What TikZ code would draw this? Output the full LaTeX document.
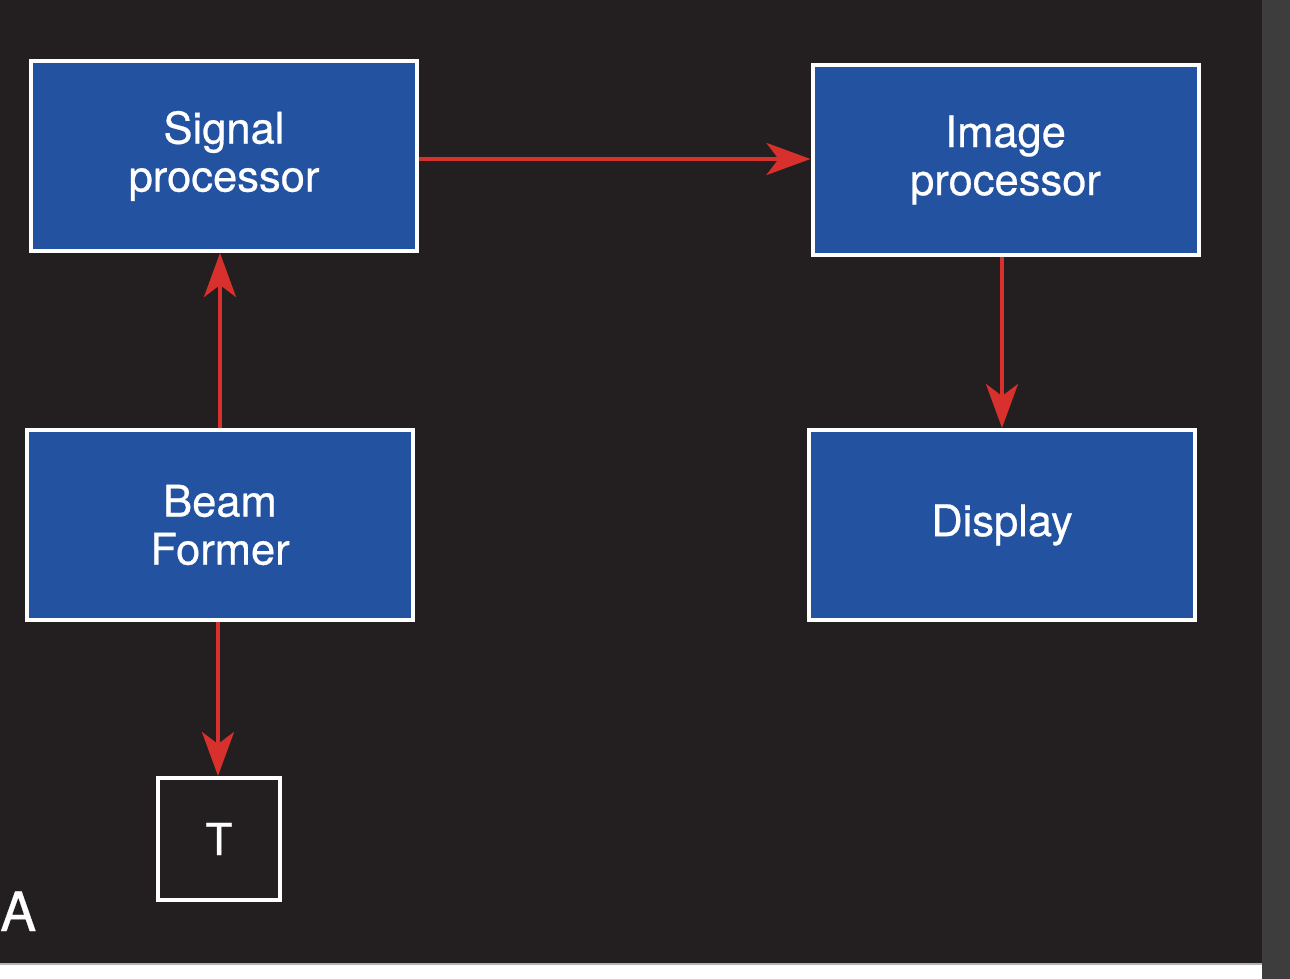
\documentclass[tikz,border=0pt]{standalone}
\usepackage{fontspec}
\setmainfont{TeX Gyre Heros}[FakeBold=0.6]
\usetikzlibrary{arrows.meta}
\definecolor{bg}{HTML}{231F20}
\definecolor{boxblue}{HTML}{2352A0}
\definecolor{arrred}{HTML}{D8302C}
\definecolor{strip}{HTML}{3E3D3D}
\tikzset{
  blk/.style={draw=white, line width=4pt, fill=boxblue, minimum width=386pt, minimum height=190pt,
    text=white, align=center, font=\fontsize{43.5}{48}\selectfont, inner sep=0pt},
  tbox/.style={draw=white, line width=4pt, fill=bg, minimum width=122pt, minimum height=122pt,
    text=white, font=\fontsize{44}{48}\selectfont, inner sep=0pt},
  arr/.style={draw=arrred, line width=4pt, -{Stealth[length=44pt,width=32pt,inset=12pt]}},
}
\begin{document}
\begin{tikzpicture}[x=1pt,y=-1pt]
\useasboundingbox (0,0) rectangle (1290,979);
\fill[bg] (0,0) rectangle (1262,963);
\fill[white] (0,963) rectangle (1262,979);
\draw[gray!60, line width=1.5pt] (0,964) -- (1262,964);
\fill[strip] (1262,0) rectangle (1290,979);

\node[blk] (sig) at (224,156) {Signal\\processor};
\node[blk] (img) at (1005.5,160) {Image\\processor};
\node[blk] (beam) at (220,525) {Beam\\Former};
\node[blk] (disp) at (1002,525) {Display};
\node[tbox] (t) at (219,839) {T};
\node[anchor=base west, text=white, font=\fontsize{54}{60}\selectfont, inner sep=0pt] (lbl) at (0,931) {A};

\draw[arr] ([yshift=-3pt]sig.east) -- ([yshift=-3pt]sig.east -| img.west);
\draw[arr] (img.south -| disp.north) -- (disp.north);
\draw[arr] (beam.north) -- (beam.north |- sig.south);
\draw[arr] ([xshift=-2pt]beam.south) -- ([xshift=-1pt]t.north);
\end{tikzpicture}
\end{document}
